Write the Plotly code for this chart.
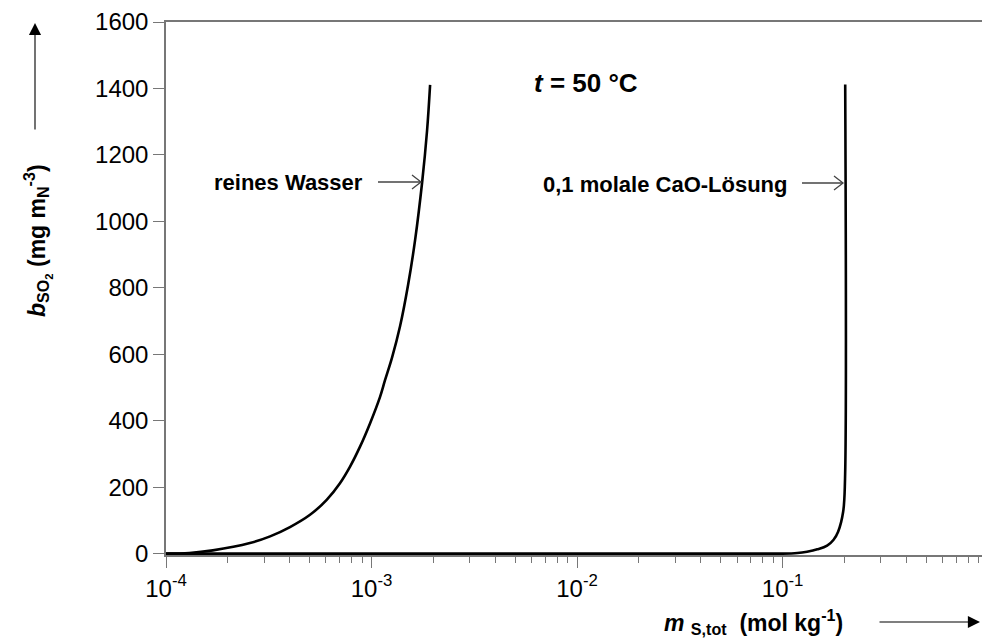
import plotly.graph_objects as go

# ---- data ----
m_wasser = [1.0e-4, 1.3e-4, 1.69e-4, 2.56e-4, 3.21e-4, 4.01e-4, 5.02e-4, 6.05e-4,
            7.02e-4, 7.86e-4, 8.79e-4, 9.83e-4, 1.10e-3, 1.163e-3, 1.258e-3, 1.377e-3,
            1.507e-3, 1.63e-3, 1.762e-3, 1.862e-3, 1.927e-3]
b_wasser = [0, 2, 10, 32, 52, 80, 117, 162, 212, 262, 322, 392, 472, 522, 590, 685,
            810, 945, 1117, 1272, 1411]

m_cao = [1.0e-4, 0.1, 0.118, 0.1315, 0.1475, 0.1646, 0.177, 0.1862, 0.197, 0.2012, 0.2016]
b_cao = [0, 0, 2, 6, 13, 24, 42, 66, 126, 225, 1412]

x_tickvals = [1e-4, 1e-3, 1e-2, 1e-1]
x_ticktext = ["10<sup>-4</sup>", "10<sup>-3</sup>", "10<sup>-2</sup>", "10<sup>-1</sup>"]
minor_mult = [2, 3, 4, 5, 6, 7, 8, 9]
minor_vals = [d * k for d in [1e-4, 1e-3, 1e-2, 1e-1] for k in minor_mult]

y_tickvals = [0, 200, 400, 600, 800, 1000, 1200, 1400, 1600]

# ---- layout geometry ----
W, H = 982, 642
L, R, T, B = 166, 0, 22, 87
PW, PH = W - L - R, H - T - B


def px(x):
    return (x - L) / PW


def py(y):
    return (H - B - y) / PH


FONT = "Liberation Sans, Arial, sans-serif"
AXC = "#777777"

fig = go.Figure()
fig.add_trace(go.Scatter(x=m_wasser, y=b_wasser, mode="lines",
                         line=dict(color="black", width=2.6, shape="spline", smoothing=1.0),
                         name="reines Wasser", showlegend=False))
fig.add_trace(go.Scatter(x=m_cao, y=b_cao, mode="lines",
                         line=dict(color="black", width=2.6, shape="spline", smoothing=1.0),
                         name="0,1 molale CaO-Lösung", showlegend=False))

fig.update_layout(
    width=W, height=H,
    margin=dict(l=L, r=R, t=T, b=B, pad=0),
    plot_bgcolor="white", paper_bgcolor="white",
    font=dict(family=FONT, color="black", size=23),
    xaxis=dict(type="log", range=[-4, -0.03], tickmode="array",
               tickvals=x_tickvals, ticktext=x_ticktext,
               ticks="outside", ticklen=11, tickwidth=1.2, tickcolor=AXC,
               showline=True, linecolor=AXC, linewidth=1.5, mirror=True,
               showgrid=False, zeroline=False,
               tickfont=dict(size=24, family=FONT),
               minor=dict(tickmode="array", tickvals=minor_vals, ticks="outside",
                          ticklen=6, tickwidth=1, tickcolor=AXC, showgrid=False)),
    yaxis=dict(range=[-4, 1600], tickmode="array", tickvals=y_tickvals,
               ticks="outside", ticklen=11, tickwidth=1.2, tickcolor=AXC,
               showline=True, linecolor=AXC, linewidth=1.5,
               showgrid=False, zeroline=False,
               tickfont=dict(size=24, family=FONT)),
)

ann = []
# axis titles
ann.append(dict(xref="paper", yref="paper", x=px(37), y=py(241), textangle=-90,
                text="<b><i>b</i><sub>SO<sub>2</sub></sub> (mg m<sub>N</sub><sup>-3</sup>)</b>",
                showarrow=False, font=dict(size=23, family=FONT),
                xanchor="center", yanchor="middle"))
ann.append(dict(xref="paper", yref="paper", x=px(753), y=py(622),
                text="<b><i>m</i> <sub>S,tot</sub>  (mol kg<sup>-1</sup>)</b>",
                showarrow=False, font=dict(size=23, family=FONT),
                xanchor="center", yanchor="middle"))
# axis arrows
ann.append(dict(xref="paper", yref="paper", x=px(35), y=py(23), text="",
                showarrow=True, ax=0, ay=108, arrowhead=2, arrowsize=2.2,
                arrowwidth=1.1, arrowcolor="black"))
ann.append(dict(xref="paper", yref="paper", x=px(980), y=py(622), text="",
                showarrow=True, ax=-102, ay=0, arrowhead=2, arrowsize=2.2,
                arrowwidth=1.1, arrowcolor="black"))
# in-plot labels
ann.append(dict(xref="paper", yref="paper", x=px(586), y=py(83),
                text="<b><i>t</i> = 50 °C</b>", showarrow=False,
                font=dict(size=26, family=FONT), xanchor="center", yanchor="middle"))
ann.append(dict(xref="paper", yref="paper", x=px(365), y=py(183),
                text="<b>reines Wasser</b>", showarrow=False,
                font=dict(size=22, family=FONT), xanchor="right", yanchor="middle"))
ann.append(dict(xref="paper", yref="paper", x=px(790), y=py(184),
                text="<b>0,1 molale CaO-Lösung</b>", showarrow=False,
                font=dict(size=22, family=FONT), xanchor="right", yanchor="middle"))
fig.update_layout(annotations=ann)

# label pointer arrows (open heads)
shapes = []
for x0, x1, yy in [(378, 421, 182), (802, 843, 183)]:
    shapes.append(dict(type="line", xref="paper", yref="paper",
                       x0=px(x0), x1=px(x1), y0=py(yy), y1=py(yy),
                       line=dict(color="#444444", width=1.3)))
    shapes.append(dict(type="path", xref="paper", yref="paper",
                       path=f"M {px(x1-9)} {py(yy-7)} L {px(x1)} {py(yy)} L {px(x1-9)} {py(yy+7)}",
                       line=dict(color="#444444", width=1.3)))
fig.update_layout(shapes=shapes)

fig.write_html("out.html")
